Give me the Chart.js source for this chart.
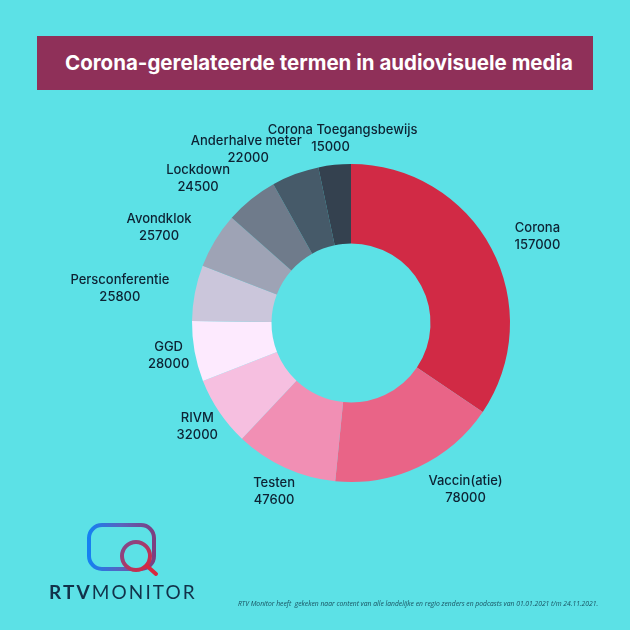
<!DOCTYPE html>
<html>
<head>
<meta charset="utf-8">
<title>Corona-gerelateerde termen</title>
<script src="https://cdn.jsdelivr.net/npm/chart.js@4"></script>
<style>
    html, body { margin: 0; padding: 0; background: #5ce1e6; }
    #page { position: relative; width: 630px; height: 630px; overflow: hidden; background: #5ce1e6; }
    #chart { position: absolute; left: 0; top: 0; }
    #banner {
        position: absolute; left: 37px; top: 36px; width: 556px; height: 54px;
        background: #8f3059; color: #fff;
        font: 700 20.5px Inter, sans-serif; line-height: 54px;
        box-sizing: border-box; padding-left: 28px; white-space: nowrap;
    }
    #note {
        position: absolute; left: 238px; top: 599px; width: 380px;
        font: italic 6.75px "Open Sans", sans-serif; color: #17505f; white-space: pre;
    }
    #logo { position: absolute; left: 40px; top: 515px; }
    #brand {
        position: absolute; left: 49px; top: 580px;
        font: 400 19px Lato, sans-serif; letter-spacing: 2.1px; color: #12324a; white-space: nowrap;
    }
    #brand b { font-weight: 700; }
</style>
</head>
<body>
<div id="page">
    <canvas id="chart" width="630" height="630"></canvas>
    <div id="banner">Corona-gerelateerde termen in audiovisuele media</div>
    <svg id="logo" width="130" height="70" viewBox="40 515 130 70">
        <defs>
            <linearGradient id="frameGrad" x1="0" y1="0" x2="1" y2="0">
                <stop offset="0" stop-color="#1580f2"/>
                <stop offset="0.5" stop-color="#5a62bd"/>
                <stop offset="1" stop-color="#7d3f80"/>
            </linearGradient>
            <linearGradient id="lensGrad" x1="0" y1="0" x2="1" y2="1">
                <stop offset="0" stop-color="#7d4a8f"/>
                <stop offset="1" stop-color="#d8283f"/>
            </linearGradient>
        </defs>
        <rect x="89" y="525" width="65" height="44" rx="13" fill="none" stroke="url(#frameGrad)" stroke-width="4"/>
        <circle cx="136" cy="556" r="14" fill="#5ce1e6" stroke="url(#lensGrad)" stroke-width="4"/>
        <line x1="147" y1="566" x2="156" y2="574" stroke="#d8283f" stroke-width="4" stroke-linecap="round"/>
    </svg>
    <div id="brand"><b>RTV</b>MONITOR</div>
    <div id="note">RTV Monitor heeft  gekeken naar content van alle landelijke en regio zenders en podcasts van 01.01.2021 t/m 24.11.2021.</div>
</div>

<script>
// Data
const categories = ['Corona', 'Vaccin(atie)', 'Testen', 'RIVM', 'GGD', 'Persconferentie', 'Avondklok', 'Lockdown', 'Anderhalve meter', 'Corona Toegangsbewijs'];
const counts = [157000, 78000, 47600, 32000, 28000, 25800, 25700, 24500, 22000, 15000];
const sliceColors = ['#d12a45', '#e96487', '#f18fb4', '#f6bfe0', '#fdeafe', '#cbc6db', '#9ea3b5', '#6f7b8b', '#465a69', '#34414f'];

// How far each label sits from the middle of its slice's outer edge
const labelShiftX = [46, 47, -11, -22, -26, -75, -56, -53, -49, 8];
const labelShiftY = [-12, 23, 24, 15, 4.5, -4.5, -13, -21, -24.5, -26];
// The numbers are not always centred under their names
const numberShiftX = [0, 0, 0, 0, 0, 0, 0, 0, 2, -12];

const sliceLabels = {
    id: 'sliceLabels',
    afterDraw(chart) {
        const { ctx } = chart;
        ctx.save();
        ctx.font = '500 13px Inter, sans-serif';
        ctx.fillStyle = '#0d2233';
        ctx.textAlign = 'center';
        ctx.textBaseline = 'middle';
        chart.getDatasetMeta(0).data.forEach((arc, i) => {
            const mid = (arc.startAngle + arc.endAngle) / 2;
            const x = arc.x + Math.cos(mid) * arc.outerRadius + labelShiftX[i];
            const y = arc.y + Math.sin(mid) * arc.outerRadius + labelShiftY[i];
            ctx.fillText(categories[i], x, y - 8.5);
            ctx.fillText(String(counts[i]), x + numberShiftX[i], y + 8.5);
        });
        ctx.restore();
    }
};

new Chart(document.getElementById('chart'), {
    type: 'doughnut',
    data: {
        labels: categories,
        datasets: [{
            data: counts,
            backgroundColor: sliceColors,
            borderWidth: 0
        }]
    },
    options: {
        responsive: false,
        animation: false,
        cutout: '50%',
        layout: { padding: { left: 192, right: 120, top: 164, bottom: 148 } },
        plugins: {
            legend: { display: false },
            tooltip: { enabled: false }
        }
    },
    plugins: [sliceLabels]
});
</script>
</body>
</html>
